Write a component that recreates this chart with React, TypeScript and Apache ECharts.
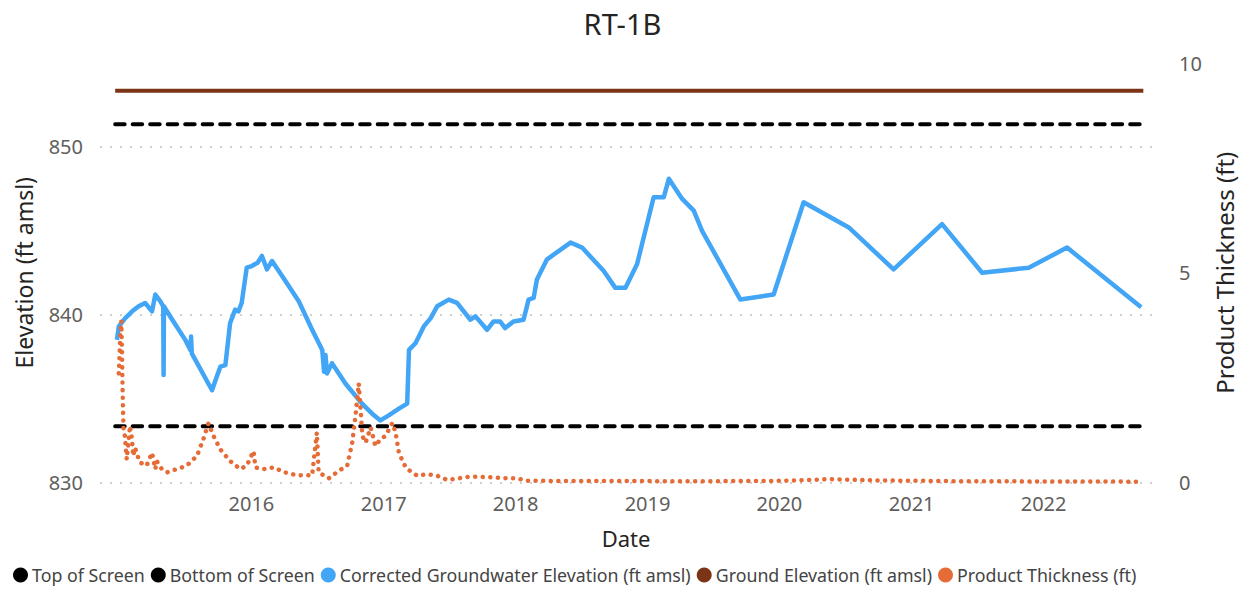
import React, { useEffect, useRef } from "react";
import * as echarts from "echarts";

const FONT = "'Noto Sans', 'Open Sans', sans-serif";

// Corrected Groundwater Elevation (ft amsl)
const gwDates = [
  "2014-12-25", "2014-12-30", "2015-01-17", "2015-02-05", "2015-02-23", "2015-03-13",
  "2015-04-01", "2015-04-10", "2015-04-24", "2015-05-02", "2015-05-03", "2015-05-04",
  "2015-05-27", "2015-07-02", "2015-07-16", "2015-07-18", "2015-07-20", "2015-09-14",
  "2015-09-27", "2015-10-07", "2015-10-21", "2015-11-03", "2015-11-17", "2015-11-26",
  "2015-12-05", "2015-12-19", "2016-01-02", "2016-01-18", "2016-01-30", "2016-02-13",
  "2016-02-27", "2016-03-26", "2016-05-11", "2016-06-17", "2016-07-15", "2016-07-20",
  "2016-07-24", "2016-07-28", "2016-08-11", "2016-09-17", "2016-11-02", "2016-11-30",
  "2016-12-23", "2017-01-15", "2017-02-12", "2017-03-07", "2017-03-12", "2017-03-30",
  "2017-04-22", "2017-05-11", "2017-05-29", "2017-06-30", "2017-07-23", "2017-08-29",
  "2017-09-12", "2017-10-14", "2017-11-01", "2017-11-19", "2017-12-03", "2017-12-26",
  "2018-01-23", "2018-02-06", "2018-02-20", "2018-03-01", "2018-03-29", "2018-06-02",
  "2018-07-04", "2018-09-02", "2018-10-04", "2018-11-01", "2018-12-03", "2019-01-18",
  "2019-02-15", "2019-03-01", "2019-04-07", "2019-05-09", "2019-06-01", "2019-09-15",
  "2019-12-16", "2020-03-08", "2020-07-11", "2020-11-12", "2021-03-26", "2021-07-15",
  "2021-11-21", "2022-03-07", "2022-09-28",
];
const gwValues = [
  838.5, 839.3, 839.8, 840.2, 840.5, 840.7,
  840.2, 841.2, 840.8, 840.5, 836.4, 840.5,
  839.7, 838.5, 837.9, 838.7, 837.7, 835.5,
  836.3, 836.9, 837.0, 839.5, 840.3, 840.2,
  840.7, 842.8, 842.9, 843.1, 843.5, 842.7,
  843.2, 842.3, 840.8, 839.1, 837.9, 836.6,
  837.6, 836.5, 837.1, 835.9, 834.7, 834.1,
  833.7, 834.0, 834.4, 834.7, 837.9, 838.3,
  839.3, 839.8, 840.5, 840.9, 840.7, 839.7,
  839.9, 839.1, 839.6, 839.6, 839.2, 839.6,
  839.7, 840.9, 841.0, 842.1, 843.3, 844.3,
  844.0, 842.6, 841.6, 841.6, 843.0, 847.0,
  847.0, 848.1, 846.9, 846.2, 845.0, 840.9,
  841.2, 846.7, 845.2, 842.7, 845.4, 842.5,
  842.8, 844.0, 840.45,
];

// Product Thickness (ft)
const ptDates = [
  "2014-12-30", "2015-01-03", "2015-01-06", "2015-01-08", "2015-01-10", "2015-01-12",
  "2015-01-16", "2015-01-21", "2015-01-30", "2015-02-04", "2015-02-08", "2015-02-13",
  "2015-02-26", "2015-03-17", "2015-04-01", "2015-04-10", "2015-04-14", "2015-04-28",
  "2015-05-12", "2015-06-08", "2015-07-06", "2015-08-03", "2015-08-21", "2015-09-04",
  "2015-09-18", "2015-10-07", "2015-11-03", "2015-12-01", "2015-12-19", "2016-01-07",
  "2016-01-12", "2016-02-04", "2016-03-03", "2016-03-30", "2016-05-07", "2016-06-17",
  "2016-06-30", "2016-07-05", "2016-08-02", "2016-08-30", "2016-09-22", "2016-10-06",
  "2016-10-15", "2016-10-24", "2016-10-29", "2016-11-03", "2016-11-12", "2016-11-26",
  "2016-12-09", "2016-12-23", "2017-01-06", "2017-01-25", "2017-02-03", "2017-02-12",
  "2017-02-26", "2017-03-07", "2017-04-04", "2017-05-01", "2017-05-29", "2017-06-26",
  "2017-08-29", "2017-10-14", "2017-12-08", "2018-01-05", "2018-02-02", "2019-06-01",
  "2020-01-15", "2020-05-21", "2020-09-18", "2021-06-01", "2022-09-28",
];
const ptValues = [
  2.6, 3.5, 3.85, 3.0, 2.0, 1.3,
  1.1, 0.55, 1.35, 1.07, 0.63, 0.83,
  0.48, 0.4, 0.71, 0.32, 0.51, 0.32,
  0.24, 0.32, 0.4, 0.63, 1.03, 1.41,
  1.11, 0.79, 0.51, 0.32, 0.4, 0.75,
  0.36, 0.32, 0.36, 0.25, 0.17, 0.17,
  1.19, 0.24, 0.1, 0.28, 0.4, 0.95,
  1.59, 2.36, 1.75, 1.11, 0.95, 1.31,
  0.87, 1.03, 1.11, 1.42, 1.19, 0.71,
  0.44, 0.32, 0.16, 0.2, 0.16, 0.06,
  0.14, 0.13, 0.1, 0.1, 0.04, 0.03,
  0.04, 0.08, 0.05, 0.03, 0.02,
];

// Constant reference levels (ft amsl)
const refDates = ["2014-12-20", "2022-10-04"];
const topOfScreen = 851.35;
const bottomOfScreen = 833.35;
const groundElevation = 853.35;

const yearTicks = [2016, 2017, 2018, 2019, 2020, 2021, 2022];
const xMin = "2014-11-08";
const xMax = "2022-10-28";

const NAMES = [
  "Top of Screen",
  "Bottom of Screen",
  "Corrected Groundwater Elevation (ft amsl)",
  "Ground Elevation (ft amsl)",
  "Product Thickness (ft)",
];

const ts = (s: string) => {
  const [y, m, d] = s.split("-").map(Number);
  return new Date(y, m - 1, d).getTime();
};

export default function App() {
  const ref = useRef<HTMLDivElement>(null);
  useEffect(() => {
    if (!ref.current) return;
    const chart = echarts.init(ref.current, undefined, { renderer: "svg" });
    const flat = (v: number) => refDates.map((d) => [ts(d), v]);
    const option = {
      animation: false,
      title: {
        text: "RT-1B",
        left: "center",
        top: 4,
        textStyle: { fontSize: 29, fontWeight: "normal", color: "#252423", fontFamily: FONT },
      },
      grid: { left: 100, right: 93, top: 63, bottom: 108.5 },
      legend: {
        data: NAMES,
        left: 8,
        top: 561,
        icon: "circle",
        itemWidth: 15,
        itemHeight: 15,
        itemGap: 6,
        textStyle: { fontSize: 17.8, color: "#444", fontFamily: FONT, padding: [0, 0, 0, -1] },
      },
      xAxis: {
        type: "value",
        min: ts(xMin),
        max: ts(xMax),
        name: "Date",
        nameLocation: "middle",
        nameGap: 44,
        nameTextStyle: { fontSize: 22, color: "#252423", fontFamily: FONT },
        axisLine: { show: false },
        axisTick: { show: false },
        splitLine: { show: false },
        axisLabel: {
          customValues: yearTicks.map((y) => new Date(y, 0, 1).getTime()),
          formatter: (v: number) => String(new Date(v).getFullYear()),
          fontSize: 20,
          color: "#605E5C",
          fontFamily: FONT,
          margin: 11,
        },
      },
      yAxis: [
        {
          type: "value",
          min: 830,
          max: 855,
          interval: 5,
          name: "Elevation (ft amsl)",
          nameLocation: "middle",
          nameGap: 65,
          nameRotate: 90,
          nameTextStyle: { fontSize: 23, color: "#252423", fontFamily: FONT },
          axisLine: { show: false },
          axisTick: { show: false },
          axisLabel: {
            formatter: (v: number) => (v % 10 === 0 ? String(v) : ""),
            fontSize: 20,
            color: "#605E5C",
            fontFamily: FONT,
            margin: 17,
          },
          splitLine: {
            show: true,
            lineStyle: { type: [2, 8], width: 2, color: ["#d0d0d0", "rgba(0,0,0,0)"] },
          },
        },
        {
          type: "value",
          min: 0,
          max: 10,
          interval: 5,
          position: "right",
          name: "Product Thickness (ft)",
          nameLocation: "middle",
          nameGap: 52,
          nameRotate: 90,
          nameTextStyle: { fontSize: 24, color: "#252423", fontFamily: FONT },
          axisLine: { show: false },
          axisTick: { show: false },
          splitLine: { show: false },
          axisLabel: { fontSize: 20, color: "#605E5C", fontFamily: FONT, margin: 27 },
        },
      ],
      series: [
        {
          name: NAMES[0],
          type: "line",
          data: flat(topOfScreen),
          symbol: "none",
          silent: true,
          itemStyle: { color: "#000000" },
          lineStyle: { color: "#000000", width: 4, type: [9.5, 8], cap: "round" },
        },
        {
          name: NAMES[1],
          type: "line",
          data: flat(bottomOfScreen),
          symbol: "none",
          silent: true,
          itemStyle: { color: "#000000" },
          lineStyle: { color: "#000000", width: 4, type: [9.5, 8], cap: "round" },
        },
        {
          name: NAMES[2],
          type: "line",
          data: gwDates.map((d, i) => [ts(d), gwValues[i]]),
          symbol: "none",
          silent: true,
          itemStyle: { color: "#42A5F5" },
          lineStyle: { color: "#42A5F5", width: 4.5, join: "round" },
        },
        {
          name: NAMES[3],
          type: "line",
          data: flat(groundElevation),
          symbol: "none",
          silent: true,
          itemStyle: { color: "#7B3516" },
          lineStyle: { color: "#7B3516", width: 4 },
        },
        {
          name: NAMES[4],
          type: "line",
          yAxisIndex: 1,
          data: ptDates.map((d, i) => [ts(d), ptValues[i]]),
          symbol: "none",
          silent: true,
          itemStyle: { color: "#E66C37" },
          lineStyle: { color: "#E66C37", width: 4.5, type: [0.1, 7.5], cap: "round" },
        },
      ],
    };
    chart.setOption(option as any);
    return () => chart.dispose();
  }, []);
  return (
    <div
      ref={ref}
      style={{ position: "fixed", left: 0, top: 0, width: 1245, height: 591, background: "#fff" }}
    />
  );
}
